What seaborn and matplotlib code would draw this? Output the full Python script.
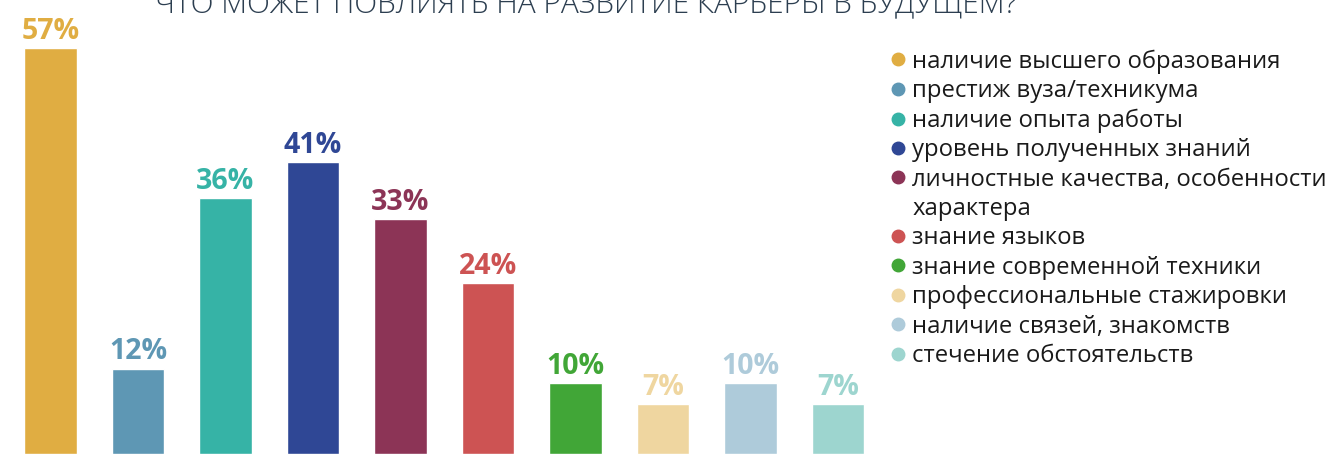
import matplotlib
matplotlib.use('Agg')
import matplotlib.pyplot as plt
import seaborn as sns
import pandas as pd
from matplotlib.lines import Line2D

# chart data
categories = [
    'наличие высшего образования',
    'престиж вуза/техникума',
    'наличие опыта работы',
    'уровень полученных знаний',
    'личностные качества, особенности характера',
    'знание языков',
    'знание современной техники',
    'профессиональные стажировки',
    'наличие связей, знакомств',
    'стечение обстоятельств',
]
values = [57, 12, 36, 41, 33, 24, 10, 7, 10, 7]
colors = ['#e0ad42', '#5e97b4', '#36b3a6', '#2f4795', '#8c3456',
          '#cd5353', '#41a637', '#efd6a0', '#aecbda', '#9dd5cf']
title = 'ЧТО МОЖЕТ ПОВЛИЯТЬ НА РАЗВИТИЕ КАРЬЕРЫ В БУДУЩЕМ?'

sns.set_theme(style='white')
plt.rcParams['font.family'] = ['Open Sans', 'DejaVu Sans']

df = pd.DataFrame({'factor': categories, 'share': values})

fig = plt.figure(figsize=(13.4, 4.54), dpi=100)
ax = fig.add_axes([0.005, 0, 0.653, 1])
sns.barplot(data=df, x='factor', y='share', hue='factor', palette=colors,
            width=0.6, saturation=1, legend=False, ax=ax)
ax.set_ylim(0, 63.8)
ax.set_xlim(-0.5, len(categories) - 0.5)
ax.set_axis_off()

# value labels above bars
for i, v in enumerate(values):
    ax.text(i, v + 1.3, f'{v}%', ha='center', va='baseline', color=colors[i],
            fontsize=20.5, fontweight='bold', clip_on=False)

# title (cut off at the top like in the original)
fig.text(0.437, 1 - 12 / 454, title, ha='center', va='baseline',
         fontsize=21.5, color='#2c3e50', fontweight='light')

# legend: long label split over two rows
handles, labels = [], []
for cat, c in zip(categories, colors):
    if cat.startswith('личностные'):
        handles.append(Line2D([], [], marker='o', ls='', markersize=9,
                              markerfacecolor=c, markeredgecolor=c))
        labels.append('личностные качества, особенности')
        handles.append(Line2D([], [], marker='o', ls='', markersize=9,
                              markerfacecolor='none', markeredgecolor='none'))
        labels.append('характера')
    else:
        handles.append(Line2D([], [], marker='o', ls='', markersize=9,
                              markerfacecolor=c, markeredgecolor=c))
        labels.append(cat)

leg = fig.legend(handles, labels, loc='upper left',
                 bbox_to_anchor=(891 / 1340, 1 - 49.5 / 454), frameon=False,
                 fontsize=17.2, labelspacing=0.225, handlelength=0.6,
                 handletextpad=0.3, borderpad=0, borderaxespad=0)
for t in leg.get_texts():
    t.set_color('#1a1a1a')

fig.savefig('out.png', dpi=100)
